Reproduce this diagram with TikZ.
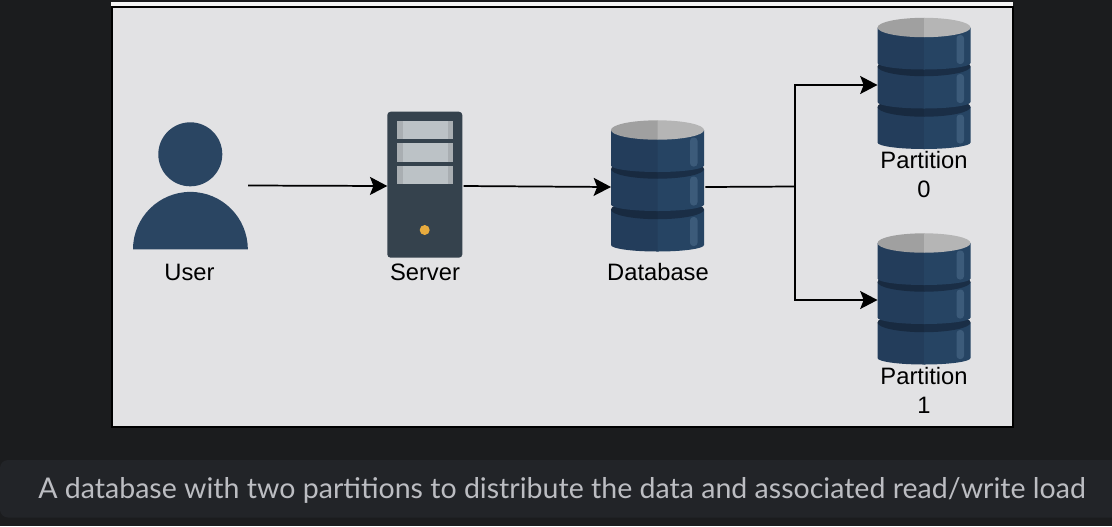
\documentclass[tikz,border=0pt]{standalone}
\usepackage{fontspec}
\setmainfont{Liberation Sans}
\newfontfamily\capfont{Lato}
\usetikzlibrary{arrows.meta}

\definecolor{pagebg}{HTML}{1B1C1E}
\definecolor{barbg}{HTML}{222428}
\definecolor{captext}{HTML}{BCBDC2}
\definecolor{panelbg}{HTML}{E2E2E4}
\definecolor{userblue}{HTML}{2A4562}
\definecolor{dbleft}{HTML}{233D5B}
\definecolor{dbright}{HTML}{264463}
\definecolor{dbshine}{HTML}{3C5B7A}
\definecolor{bandleft}{HTML}{182A40}
\definecolor{bandright}{HTML}{1A2E46}
\definecolor{topleft}{HTML}{A0A0A0}
\definecolor{topright}{HTML}{B5B5B5}
\definecolor{serverbody}{HTML}{35424D}
\definecolor{slotlight}{HTML}{BCC2C6}
\definecolor{slotdark}{HTML}{A9AEB2}
\definecolor{ledcolor}{HTML}{E8AB3E}

\tikzset{
    iconbox/.style = {minimum width = #1*0.75pt, minimum height = 60pt, inner sep = 0pt, outer sep = 0pt},
    lbl/.style = {font = \fontsize{17.8}{21.8}\selectfont, text = black, inner sep = 0pt, align = center},
    conn/.style = {line width = 1.3pt, -{Stealth[length = 13pt, width = 13.5pt, inset = 2.6pt]}},
    plainconn/.style = {line width = 1.3pt},
    dbstack/.pic = {
        \foreach \dy/\cl/\cr in {79.5/bandleft/bandright, 39/bandleft/bandright, 0/topleft/topright} {
            % side of one disc, split in two tones
            \fill [dbleft] (-46.5,\dy) -- (-46.5,\dy+35.5) arc [start angle = 180, end angle = 90, x radius = 46.5, y radius = 6.5] -- (0.5,\dy+42) -- (0.5,\dy) -- cycle;
            \fill [dbright] (46.5,\dy) -- (46.5,\dy+35.5) arc [start angle = 0, end angle = 90, x radius = 46.5, y radius = 6.5] -- (0,\dy) -- cycle;
            \fill [dbshine, rounded corners = 2.5] (32.5,\dy+7.5) rectangle (40,\dy+36.5);
            % top of the disc
            \fill [\cl] (0.5,\dy-9.7) -- (0,\dy-9.7) arc [start angle = -90, end angle = -270, x radius = 46.5, y radius = 9.7] -- (0.5,\dy+9.7) -- cycle;
            \fill [\cr] (0,\dy-9.7) arc [start angle = -90, end angle = 90, x radius = 46.5, y radius = 9.7] -- cycle;
        }
    }
}

\begin{document}
\begin{tikzpicture}[x = 0.75pt, y = -0.75pt]
    \useasboundingbox (0,0) rectangle (1112,526);
    \fill [pagebg] (0,0) rectangle (1112,526);

    % panel
    \fill [panelbg!40!white] (111,2) rectangle (1013,5.7);
    \draw [line width = 1.5pt, fill = panelbg] (112,6.7) rectangle (1012.5,427);

    % caption bar
    \fill [barbg, rounded corners = 6] (0,460) rectangle (1130,517.5);
    \node (caption) at (38,498.3) [anchor = base west, inner sep = 0pt, text = captext, font = \capfont\fontsize{21.4}{25}\selectfont] {A database with two partitions to distribute the data and associated read/write load};

    % connection boxes
    \node [iconbox = 115] (user) at (190.5,185.5) {};
    \node [iconbox = 75] (server) at (424.8,186) {};
    \node [iconbox = 93] (database) at (657.5,187) {};
    \node [iconbox = 93] (part0) at (924,85) {};
    \node [iconbox = 93] (part1) at (924,300) {};
    \coordinate (split) at (795,186.5);

    % user
    \fill [userblue] (190.3,154.3) circle [radius = 32];
    \fill [userblue] (133,249.3) arc [start angle = 180, end angle = 360, x radius = 57.4, y radius = 57.4] -- cycle;

    % server
    \fill [serverbody, rounded corners = 2.5] (387.3,111.7) rectangle (462.3,257.7);
    \foreach \sy in {120.7, 143.3, 166} {
        \fill [slotlight] (396.7,\sy) rectangle (452.7,\sy+18.3);
        \fill [slotdark] (396.7,\sy) rectangle (402.5,\sy+18.3);
        \fill [slotdark] (448,\sy) rectangle (452.7,\sy+18.3);
    }
    \fill [ledcolor] (424.7,230) circle [radius = 5];

    % databases
    \pic at (657.5,130) {dbstack};
    \pic at (924,27.5) {dbstack};
    \pic at (924,243) {dbstack};

    % connectors
    \draw [conn] (user.east) -- (server.west);
    \draw [conn, shorten <= 1pt] (server.east) -- (database.west);
    \draw [plainconn, shorten <= 1pt] (database.east) -- (split);
    \draw [conn] (split) |- (part0.west);
    \draw [conn] (split) |- (part1.west);

    % labels
    \node (userlabel) at (189.5,280.7) [lbl, anchor = base] {User};
    \node (serverlabel) at (425,280.7) [lbl, anchor = base] {Server};
    \node (dblabel) at (658,280.7) [lbl, anchor = base] {Database};
    \node (part0label) at (924,197.4) [lbl, anchor = base] {Partition\\0};
    \node (part1label) at (924,413.4) [lbl, anchor = base] {Partition\\1};
\end{tikzpicture}
\end{document}
